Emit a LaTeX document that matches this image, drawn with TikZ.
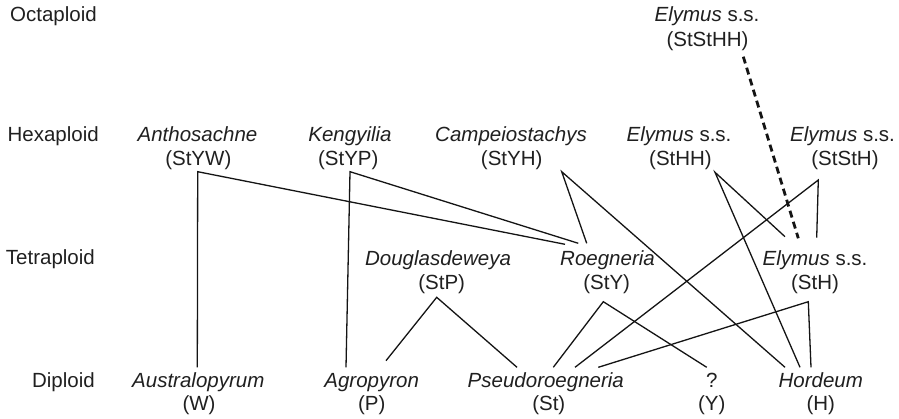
\documentclass[tikz,border=0pt]{standalone}
\usepackage{fontspec}
\setmainfont{Liberation Sans}
\definecolor{txt}{RGB}{32,32,32}
\definecolor{ln}{RGB}{20,20,20}
\begin{document}
\begin{tikzpicture}[x=1pt,y=-1pt,
  lbl/.style={font=\fontsize{20.5}{24}\selectfont, text=txt, inner sep=0pt, anchor=base},
  rowlbl/.style={lbl, anchor=base east},
  link/.style={draw=ln, line width=1.3pt},
  hyb/.style={draw=ln, line width=2.8pt, dash pattern=on 7pt off 4.5pt}]
\useasboundingbox[fill=white] (0,0) rectangle (899,419);

% ploidy labels
\node[rowlbl] (octa) at (97,22) {Octaploid};
\node[rowlbl] (hexa) at (99,141.5) {Hexaploid};
\node[rowlbl] (tetra) at (95,264.5) {Tetraploid};
\node[rowlbl] (dipl) at (95,387) {Diploid};

% octaploid
\node[lbl] (ststhh) at (707,22) {\textit{Elymus} s.s.};
\node[lbl] (ststhhg) at (707.5,47) {(StStHH)};

% hexaploid
\node[lbl] (anth) at (197.5,141.5) {\textit{Anthosachne}};
\node[lbl] (anthg) at (198.3,165.5) {(StYW)};
\node[lbl] (keng) at (350,141.5) {\textit{Kengyilia}};
\node[lbl] (kengg) at (348.3,165.5) {(StYP)};
\node[lbl] (camp) at (511,141.5) {\textit{Campeiostachys}};
\node[lbl] (campg) at (511.7,165.5) {(StYH)};
\node[lbl] (sthh) at (679,141.5) {\textit{Elymus} s.s.};
\node[lbl] (sthhg) at (680.5,165.5) {(StHH)};
\node[lbl] (sthsth) at (842.5,141.5) {\textit{Elymus} s.s.};
\node[lbl] (sthsthg) at (845,165.5) {(StStH)};

% tetraploid
\node[lbl] (doug) at (438,266) {\textit{Douglasdeweya}};
\node[lbl] (dougg) at (441.7,290) {(StP)};
\node[lbl] (roeg) at (607.5,266) {\textit{Roegneria}};
\node[lbl] (roegg) at (606.7,290) {(StY)};
\node[lbl] (sth) at (815,266) {\textit{Elymus} s.s.};
\node[lbl] (sthg) at (815,290) {(StH)};

% diploid
\node[lbl] (aust) at (198.3,387) {\textit{Australopyrum}};
\node[lbl] (austg) at (199,410) {(W)};
\node[lbl] (agro) at (371.7,387) {\textit{Agropyron}};
\node[lbl] (agrog) at (371.7,410) {(P)};
\node[lbl] (pseu) at (545.8,387) {\textit{Pseudoroegneria}};
\node[lbl] (pseug) at (548.8,410) {(St)};
\node[lbl] (unk) at (711.7,387) {?};
\node[lbl] (unkg) at (711.7,410) {(Y)};
\node[lbl] (hord) at (820.8,387) {\textit{Hordeum}};
\node[lbl] (hordg) at (820.8,410) {(H)};

% connector points
\coordinate (anthB) at (197.7,171.7);
\coordinate (kengB) at (350,171.7);
\coordinate (campB) at (561.7,171.7);
\coordinate (sthhB) at (715,172.3);
\coordinate (sthsthB) at (818.3,180);
\coordinate (ststhhB) at (743.3,56.7);
\coordinate (dougB) at (436.7,297.3);
\coordinate (roegB) at (603.3,301.7);
\coordinate (sthB) at (808.3,301.7);

\coordinate (roegT1) at (565,244.3);
\coordinate (roegT2) at (578.3,243.3);
\coordinate (roegT3) at (586.7,243.3);
\coordinate (sthT1) at (785,236.7);
\coordinate (sthT2) at (798.3,238.3);
\coordinate (sthT3) at (816.7,237.7);
\coordinate (austT) at (197.3,367.3);
\coordinate (agroT1) at (346,367.3);
\coordinate (agroT2) at (386,360.7);
\coordinate (pseuT1) at (517,367.3);
\coordinate (pseuT2) at (553.3,367.3);
\coordinate (pseuT3) at (575,367.3);
\coordinate (pseuT4) at (598.3,367.3);
\coordinate (unkT) at (706.7,367.3);
\coordinate (hordT1) at (785,367.3);
\coordinate (hordT2) at (800,367.3);
\coordinate (hordT3) at (811,367.3);

% connectors
\draw[link] (austT) -- (anthB) -- (roegT1);
\draw[link] (agroT1) -- (kengB) -- (roegT2);
\draw[link] (roegT3) -- (campB) -- (hordT1);
\draw[link] (sthT1) -- (sthhB) -- (hordT2);
\draw[link] (pseuT3) -- (sthsthB) -- (sthT3);
\draw[hyb] (ststhhB) -- (sthT2);
\draw[link] (agroT2) -- (dougB) -- (pseuT1);
\draw[link] (pseuT2) -- (roegB) -- (unkT);
\draw[link] (pseuT4) -- (sthB) -- (hordT3);
\end{tikzpicture}
\end{document}
